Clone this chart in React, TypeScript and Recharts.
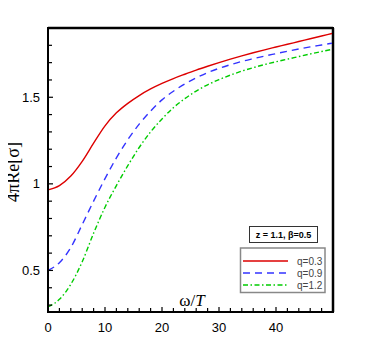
import React from 'react';
import { LineChart, Line, XAxis, YAxis, Legend, ReferenceLine } from 'recharts';

const omega = [0, 2, 4, 6, 8, 10, 12, 14, 16, 18, 20, 22, 24, 26, 28, 30, 32, 34, 36, 38, 40, 42, 44, 46, 48, 50];
const q03 = [0.965, 0.99, 1.045, 1.13, 1.235, 1.335, 1.41, 1.465, 1.51, 1.548, 1.58, 1.608, 1.633, 1.657, 1.679, 1.7, 1.72, 1.739, 1.757, 1.774, 1.79, 1.806, 1.822, 1.838, 1.854, 1.87];
const q09 = [0.5, 0.545, 0.632, 0.765, 0.9, 1.03, 1.15, 1.255, 1.345, 1.42, 1.485, 1.535, 1.577, 1.612, 1.642, 1.667, 1.688, 1.707, 1.723, 1.738, 1.752, 1.766, 1.779, 1.791, 1.802, 1.813];
const q12 = [0.29, 0.333, 0.42, 0.55, 0.715, 0.865, 0.99, 1.105, 1.21, 1.3, 1.375, 1.44, 1.492, 1.536, 1.572, 1.602, 1.628, 1.651, 1.671, 1.689, 1.705, 1.72, 1.735, 1.75, 1.764, 1.778];

const seriesNames = ['q=0.3', 'q=0.9', 'q=1.2'];
const seriesKeys = ['q03', 'q09', 'q12'];
const seriesColors = ['#dd0000', '#3333ff', '#00cc00'];
const seriesDash = ['', '7 5', '5 2.5 1.5 2.5'];

const xDomain = [0, 50];
const yDomain = [0.26, 1.9];
const xTicks = [0, 2, 4, 6, 8, 10, 12, 14, 16, 18, 20, 22, 24, 26, 28, 30, 32, 34, 36, 38, 40, 42, 44, 46, 48];
const xLabeled = [0, 10, 20, 30, 40];
const yTicks = [0.3, 0.4, 0.5, 0.6, 0.7, 0.8, 0.9, 1, 1.1, 1.2, 1.3, 1.4, 1.5, 1.6, 1.7, 1.8];
const yLabeled = [0.5, 1, 1.5];

const data = omega.map((w, i) => ({ w, q03: q03[i], q09: q09[i], q12: q12[i] }));

const SANS = "'Liberation Sans', Arial, sans-serif";
const SERIF = "'Liberation Serif', 'Times New Roman', serif";

const XTick = (props: any) => {
  const { x, y, payload } = props;
  const v = payload.value;
  const major = xLabeled.includes(v);
  const len = major ? 4 : 3;
  return (
    <g>
      <rect x={x - 0.6} y={y - len - 1} width={1.2} height={len + 1} fill="#000" />
      {major && (
        <text x={x} y={y + 15} dy="0.35em" textAnchor="middle" fontSize={13} fill="#000"
          fontFamily={SANS}>{v}</text>
      )}
    </g>
  );
};

const YTick = (props: any) => {
  const { x, y, payload } = props;
  const v = payload.value;
  const major = yLabeled.some((t) => Math.abs(t - v) < 1e-6);
  const len = major ? 4 : 3;
  return (
    <g>
      <rect x={x} y={y - 0.6} width={len + 1} height={1.2} fill="#000" />
      {major && (
        <text x={x - 8} y={y} dy="0.35em" textAnchor="end" fontSize={13} fill="#000"
          fontFamily={SANS}>{String(v)}</text>
      )}
    </g>
  );
};

const YLabel = () => (
  <text x={13} y={172} transform="rotate(-90 13 172)" textAnchor="middle" dy="0.35em"
    fontSize={18} fontFamily={SERIF} fill="#000">
    4πRe[σ]
  </text>
);

const XLabel = () => (
  <text x={192} y={306} textAnchor="middle" fontSize={17} fontFamily={SERIF} fill="#000">
    ω/<tspan fontStyle="italic">T</tspan>
  </text>
);

const LegendBox = () => (
  <svg width={95} height={75} style={{ display: 'block' }}>
    <rect x={13.5} y={4.5} width={68} height={16} fill="#fff" stroke="#333" strokeWidth={1} />
    <text x={47.5} y={12.7} dy="0.35em" textAnchor="middle" fontSize={9} fontWeight="bold"
      fontFamily={SANS} fill="#000">z = 1.1, β=0.5</text>
    <rect x={4.5} y={26} width={84.5} height={44.5} fill="#fff" stroke="#888" strokeWidth={1.5} />
    {seriesNames.map((n, i) => (
      <g key={n}>
        <line x1={7} x2={52} y1={39 + i * 12} y2={39 + i * 12} stroke={seriesColors[i]}
          strokeWidth={1.3} strokeDasharray={seriesDash[i] || undefined} />
        <text x={61} y={39 + i * 12} dy="0.35em" fontSize={10} fill="#444"
          fontFamily={SANS}>{n}</text>
      </g>
    ))}
  </svg>
);

export default function App() {
  return (
    <div style={{ position: 'relative', marginLeft: -8, marginTop: -8, width: 382, height: 340 }}>
      <LineChart width={382} height={340} data={data}
        margin={{ top: 28, right: 49, left: 0, bottom: 0 }}>
        <XAxis dataKey="w" type="number" domain={xDomain} ticks={xTicks} interval={0}
          tick={<XTick />} tickLine={false} tickSize={0} tickMargin={0}
          height={28} axisLine={{ stroke: '#000', strokeWidth: 2 }} />
        <YAxis type="number" domain={yDomain} ticks={yTicks} interval={0}
          tick={<YTick />} tickLine={false} tickSize={0} tickMargin={0}
          width={48} axisLine={{ stroke: '#000', strokeWidth: 2 }} label={<YLabel />} />
        <ReferenceLine y={yDomain[1]} stroke="#000" strokeWidth={2.5} ifOverflow="visible" />
        <ReferenceLine x={xDomain[1]} stroke="#000" strokeWidth={2.5} ifOverflow="visible" />
        <Legend layout="horizontal" verticalAlign="middle" align="center"
          wrapperStyle={{ left: 236, top: 222, width: 95, height: 75 }}
          content={<LegendBox />} />
        {seriesKeys.map((k, i) => (
          <Line key={k} dataKey={k} name={seriesNames[i]} type="monotone" dot={false}
            stroke={seriesColors[i]} strokeWidth={1.4}
            strokeDasharray={seriesDash[i] || undefined} isAnimationActive={false} />
        ))}
        <XLabel />
      </LineChart>
      <div style={{
        position: 'absolute', left: 47, top: 27, width: 287, height: 286,
        boxSizing: 'border-box', border: '2px solid #000', pointerEvents: 'none',
      }} />
    </div>
  );
}
